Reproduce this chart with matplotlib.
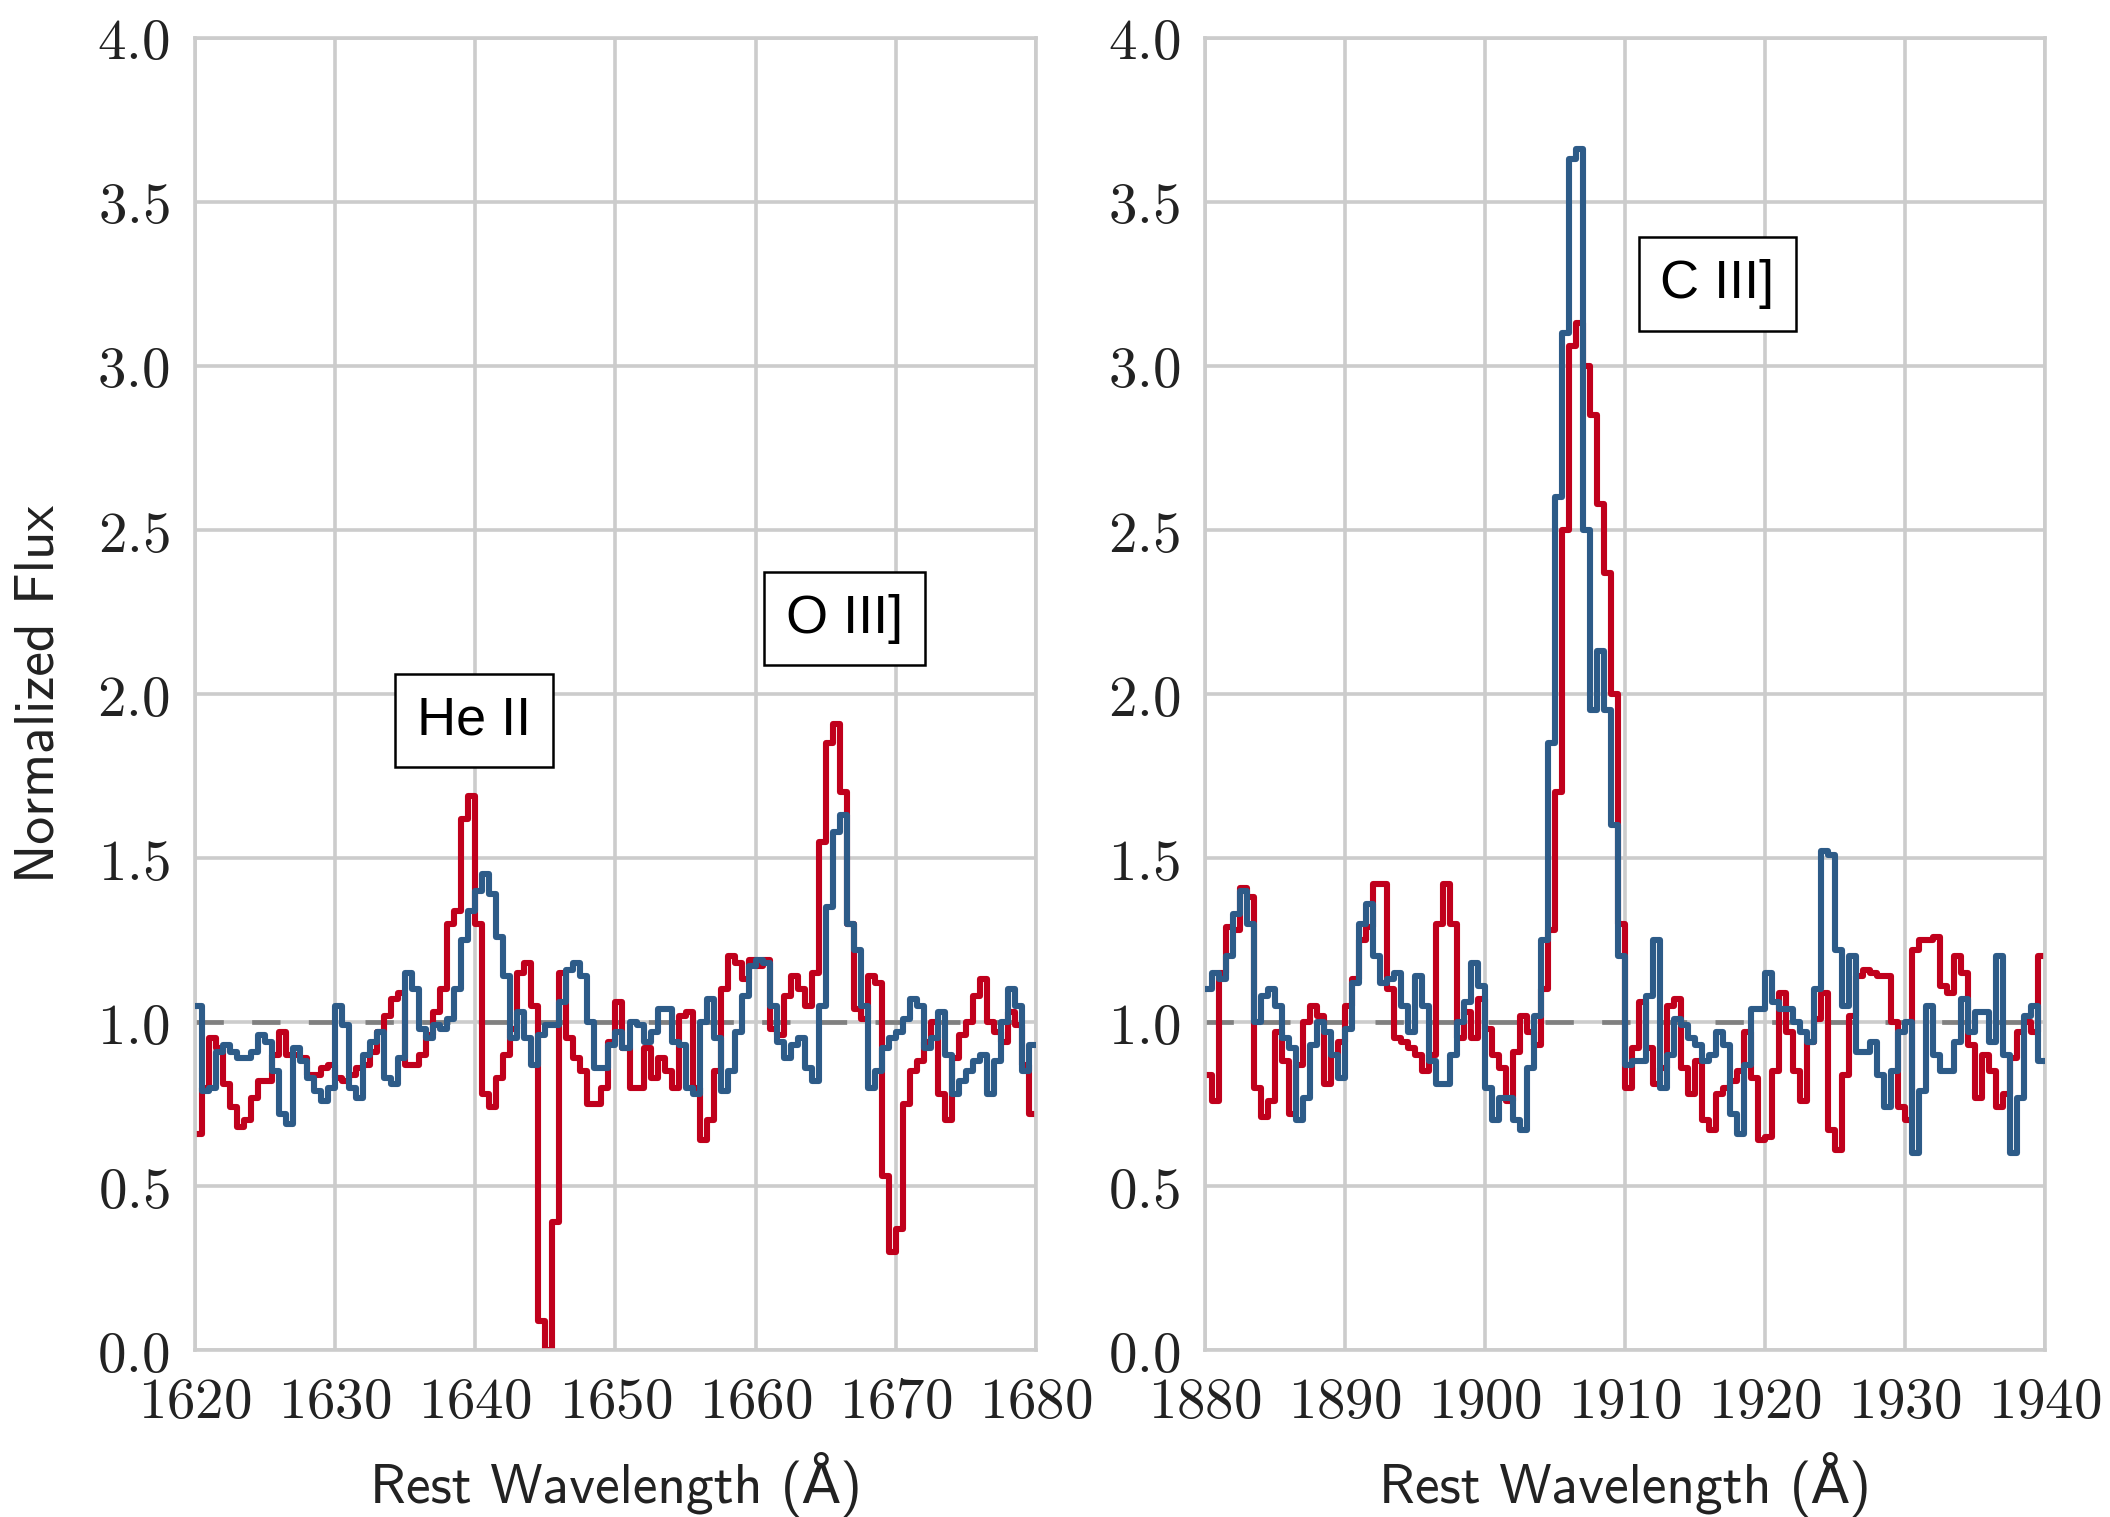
import numpy as np
import matplotlib
matplotlib.use('Agg')
import matplotlib.pyplot as plt
from matplotlib.ticker import FuncFormatter, MultipleLocator

# wavelength bins (0.5 A) for each panel
wave_heii = 1620 + 0.5 * np.arange(120)
wave_ciii = 1880 + 0.5 * np.arange(120)

red_heii = [
    0.66, 0.80, 0.95, 0.92, 0.81, 0.74, 0.68, 0.70, 0.77, 0.82,
    0.82, 0.90, 0.97, 0.90, 0.90, 0.89, 0.84, 0.84, 0.86, 0.87,
    0.83, 0.82, 0.84, 0.86, 0.87, 0.91, 0.97, 1.02, 1.07, 1.09,
    0.87, 0.87, 0.90, 0.96, 1.03, 1.10, 1.30, 1.34, 1.62, 1.69,
    1.30, 0.78, 0.74, 0.83, 0.90, 0.98, 1.15, 1.18, 1.05, 0.09,
    0.00, 0.39, 1.15, 0.95, 0.89, 0.85, 0.75, 0.75, 0.80, 0.94,
    1.06, 0.92, 0.80, 0.80, 0.92, 0.83, 0.89, 0.85, 0.80, 1.02,
    1.03, 0.80, 0.64, 0.70, 0.85, 1.10, 1.20, 1.18, 1.13, 1.19,
    1.17, 1.19, 0.98, 0.96, 1.08, 1.14, 1.10, 1.05, 1.15, 1.55,
    1.85, 1.91, 1.70, 1.30, 1.04, 1.01, 1.14, 1.12, 0.53, 0.30,
    0.37, 0.75, 0.85, 0.88, 0.94, 1.00, 0.78, 0.70, 0.89, 0.96,
    1.00, 1.08, 1.13, 1.00, 0.97, 0.94, 1.03, 0.99, 0.87, 0.72,
]
blue_heii = [
    1.05, 0.79, 0.80, 0.91, 0.93, 0.91, 0.89, 0.89, 0.91, 0.96,
    0.94, 0.85, 0.72, 0.69, 0.92, 0.88, 0.83, 0.79, 0.76, 0.80,
    1.05, 0.99, 0.80, 0.77, 0.90, 0.94, 0.97, 0.83, 0.81, 0.89,
    1.15, 1.10, 0.98, 0.95, 0.99, 0.98, 1.01, 1.10, 1.25, 1.34,
    1.40, 1.45, 1.39, 1.26, 1.14, 0.95, 1.03, 0.95, 0.87, 0.96,
    0.99, 0.99, 1.06, 1.16, 1.18, 1.14, 1.00, 0.86, 0.86, 0.93,
    0.97, 0.92, 1.00, 0.99, 0.94, 0.97, 1.04, 1.04, 0.94, 0.93,
    0.80, 0.78, 1.00, 1.07, 0.95, 0.79, 0.85, 0.97, 1.08, 1.17,
    1.19, 1.18, 1.05, 0.94, 0.89, 0.93, 0.95, 0.86, 0.82, 1.05,
    1.35, 1.58, 1.63, 1.30, 1.22, 1.05, 0.80, 0.85, 0.92, 0.95,
    0.97, 1.01, 1.07, 1.05, 0.92, 0.95, 1.03, 0.90, 0.78, 0.82,
    0.85, 0.88, 0.90, 0.78, 0.88, 1.00, 1.10, 1.05, 0.85, 0.93,
]
red_ciii = [
    0.84, 0.76, 1.15, 1.29, 1.28, 1.41, 1.38, 0.80, 0.71, 0.76,
    0.97, 0.88, 0.72, 0.87, 1.00, 1.05, 1.02, 0.81, 0.90, 0.94,
    1.05, 1.13, 1.25, 1.29, 1.42, 1.42, 1.10, 0.95, 0.94, 0.92,
    0.90, 0.85, 0.90, 1.30, 1.42, 1.30, 0.95, 1.03, 0.95, 1.07,
    0.98, 0.90, 0.86, 0.76, 0.91, 1.02, 0.97, 0.93, 1.10, 1.28,
    1.70, 2.50, 3.06, 3.13, 3.00, 2.85, 2.58, 2.37, 2.00, 1.30,
    0.80, 0.92, 1.06, 0.92, 0.81, 0.86, 1.05, 1.07, 0.86, 0.78,
    0.88, 0.70, 0.67, 0.78, 0.80, 0.82, 0.85, 0.97, 0.83, 0.64,
    0.65, 0.85, 1.09, 0.97, 0.85, 0.76, 0.94, 1.01, 1.09, 0.67,
    0.61, 0.84, 1.02, 1.14, 1.16, 1.15, 1.14, 1.14, 1.00, 0.74,
    0.70, 1.22, 1.25, 1.25, 1.26, 1.11, 1.09, 1.20, 1.15, 0.93,
    0.77, 0.90, 0.85, 0.74, 0.78, 0.89, 0.97, 1.00, 0.97, 1.20,
]
blue_ciii = [
    1.10, 1.15, 1.13, 1.20, 1.33, 1.40, 1.30, 1.00, 1.08, 1.10,
    1.05, 0.95, 0.92, 0.70, 0.77, 0.93, 1.00, 0.97, 0.90, 0.83,
    0.98, 1.12, 1.30, 1.36, 1.20, 1.12, 1.13, 1.15, 1.05, 0.97,
    1.14, 1.05, 0.88, 0.81, 0.81, 0.90, 1.00, 1.06, 1.18, 1.11,
    0.80, 0.70, 0.77, 0.77, 0.70, 0.67, 0.86, 1.02, 1.25, 1.85,
    2.60, 3.10, 3.63, 3.66, 2.50, 1.95, 2.13, 1.95, 1.60, 1.20,
    0.87, 0.88, 0.88, 1.08, 1.25, 0.80, 0.90, 1.01, 0.99, 0.95,
    0.93, 0.88, 0.90, 0.97, 0.93, 0.72, 0.66, 0.87, 1.04, 1.04,
    1.15, 1.06, 1.04, 1.04, 1.00, 0.97, 0.94, 1.10, 1.52, 1.51,
    1.22, 1.05, 1.20, 0.91, 0.91, 0.94, 0.84, 0.74, 0.85, 0.97,
    1.00, 0.60, 0.79, 1.05, 0.90, 0.85, 0.85, 0.94, 1.07, 0.97,
    1.03, 1.03, 0.94, 1.20, 0.90, 0.60, 0.77, 1.02, 1.05, 0.88,
]

line_labels = ['He II', 'O III]', 'C III]']
label_pos = [(1639.9, 1.92), (1666.35, 2.23), (1916.6, 3.25)]

RED = '#c0001c'
BLUE = '#2d5b88'
GRID = '#cccccc'
SANS = ['cmss10', 'DejaVu Sans']

plt.rcParams['mathtext.fontset'] = 'cm'

fig = plt.figure(figsize=(21.1, 15.17), dpi=100)
ax1 = fig.add_axes([0.0924, 0.110, 0.3986, 0.865])
ax2 = fig.add_axes([0.5711, 0.110, 0.3981, 0.865])


def steps(wave, vals):
    x = np.append(wave, wave[-1] + 0.5)
    y = np.append(vals, vals[-1])
    return x, y


for ax, wave, red, blue, xlim in [(ax1, wave_heii, red_heii, blue_heii, (1620, 1680)),
                                  (ax2, wave_ciii, red_ciii, blue_ciii, (1880, 1940))]:
    ax.set_facecolor('white')
    ax.grid(True, color=GRID, linewidth=2.6, zorder=0)
    ax.set_axisbelow(True)
    for sp in ax.spines.values():
        sp.set_color(GRID)
        sp.set_linewidth(2.6)
    ax.axhline(1.0, color='#808080', linewidth=3.4, linestyle=(0, (6, 6)), zorder=1)
    x, y = steps(wave, red)
    ax.plot(x, y, drawstyle='steps-post', color=RED, linewidth=4.4, zorder=2)
    x, y = steps(wave, blue)
    ax.plot(x, y, drawstyle='steps-post', color=BLUE, linewidth=4.4, zorder=3)
    ax.set_xlim(*xlim)
    ax.set_ylim(0, 4)
    ax.xaxis.set_major_locator(MultipleLocator(10))
    ax.yaxis.set_major_locator(MultipleLocator(0.5))
    ax.xaxis.set_major_formatter(FuncFormatter(lambda v, p: r'$%d$' % v))
    ax.yaxis.set_major_formatter(FuncFormatter(lambda v, p: r'$%.1f$' % v))
    ax.tick_params(length=0, labelsize=41, colors='#222222', pad=18)
    ax.set_xlabel('Rest Wavelength (Å)', fontsize=40, family=SANS, color='#222222', labelpad=16)

ax1.set_ylabel('Normalized Flux', fontsize=40, family=SANS, color='#222222', labelpad=24)

for ax, txt, (lx, ly) in zip([ax1, ax1, ax2], line_labels, label_pos):
    ax.text(lx, ly, txt, fontsize=39, family='Liberation Sans', ha='center', va='center',
            zorder=5, bbox=dict(boxstyle='square,pad=0.4', facecolor='white',
                                edgecolor='black', linewidth=1.8))

plt.savefig('out.png', dpi=100)
plt.close()
